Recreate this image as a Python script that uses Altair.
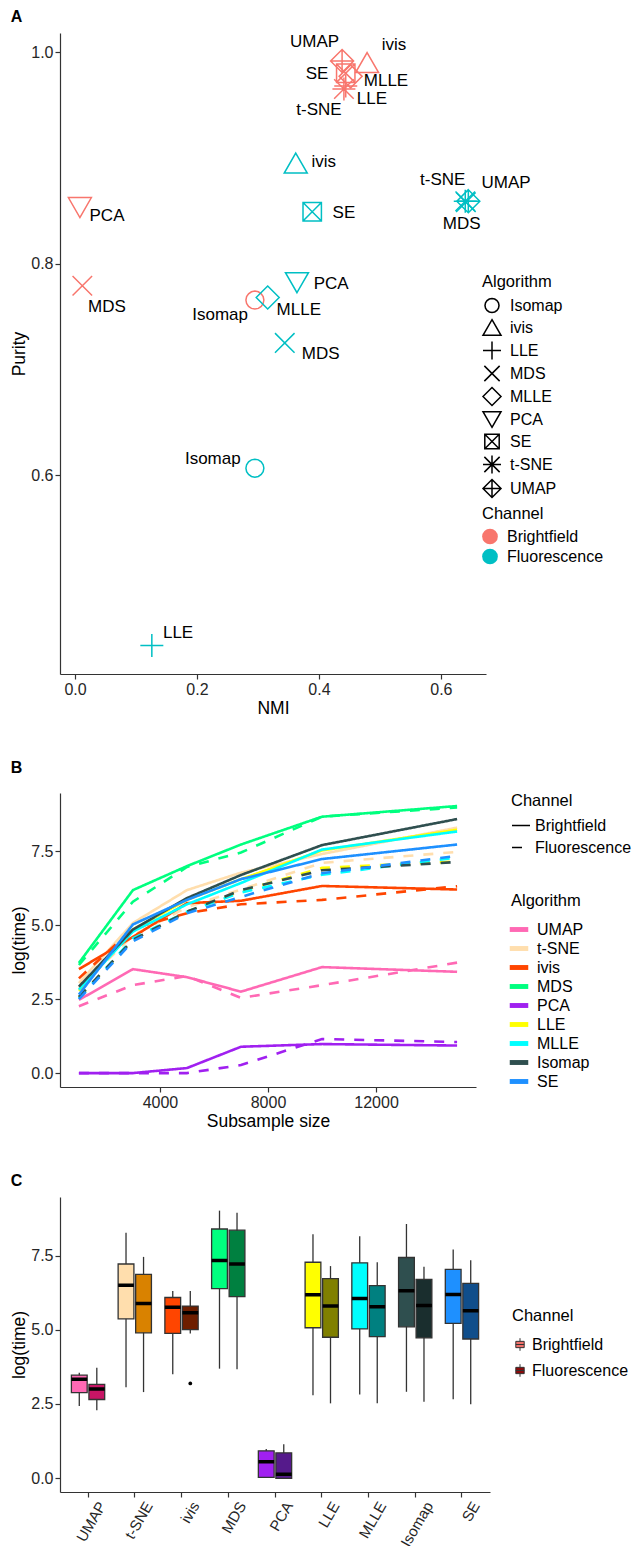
import altair as alt
import pandas as pd

FONT = "Liberation Sans"
BF, FL = "Brightfield", "Fluorescence"

# ---------------- Panel A data ----------------
a_algorithm = ["PCA", "MDS", "Isomap", "UMAP", "ivis", "SE", "MLLE", "LLE", "t-SNE",
               "ivis", "SE", "t-SNE", "UMAP", "MDS", "PCA", "MLLE", "MDS", "Isomap", "LLE"]
a_channel = [BF] * 9 + [FL] * 10
a_nmi = [0.008, 0.012, 0.295, 0.438, 0.479, 0.444, 0.452, 0.444, 0.441,
         0.362, 0.389, 0.640, 0.645, 0.641, 0.364, 0.316, 0.344, 0.295, 0.126]
a_purity = [0.853, 0.779, 0.7655, 0.9915, 0.990, 0.980, 0.977, 0.968, 0.965,
            0.895, 0.849, 0.859, 0.859, 0.858, 0.782, 0.768, 0.725, 0.6066, 0.439]
a_label_nmi = [0.0525, 0.0525, 0.238, 0.393, 0.523, 0.397, 0.510, 0.487, 0.400,
               0.408, 0.441, 0.603, 0.707, 0.634, 0.420, 0.367, 0.403, 0.226, 0.169]
a_label_purity = [0.845, 0.759, 0.751, 1.0095, 1.0066, 0.979, 0.9726, 0.9556, 0.945,
                  0.896, 0.848, 0.879, 0.876, 0.837, 0.781, 0.756, 0.715, 0.615, 0.451]

shape_domain = ["Isomap", "ivis", "LLE", "MDS", "MLLE", "PCA", "SE", "t-SNE", "UMAP"]
shape_paths = [
    "M0.78,0L0.72,0.3L0.55,0.55L0.3,0.72L0,0.78L-0.3,0.72L-0.55,0.55L-0.72,0.3L-0.78,0"
    "L-0.72,-0.3L-0.55,-0.55L-0.3,-0.72L0,-0.78L0.3,-0.72L0.55,-0.55L0.72,-0.3Z",
    "M0,-0.87L1,0.87L-1,0.87Z",
    "M-1,0L1,0M0,-1L0,1",
    "M-0.85,-0.85L0.85,0.85M-0.85,0.85L0.85,-0.85",
    "M0,-1L1,0L0,1L-1,0Z",
    "M0,0.87L1,-0.87L-1,-0.87Z",
    "M-0.8,-0.8L0.8,-0.8L0.8,0.8L-0.8,0.8ZM-0.8,-0.8L0.8,0.8M-0.8,0.8L0.8,-0.8",
    "M-1,0L1,0M0,-1L0,1M-0.85,-0.85L0.85,0.85M-0.85,0.85L0.85,-0.85",
    "M0,-1L1,0L0,1L-1,0ZM-1,0L1,0M0,-1L0,1",
]
channel_colors_a = ["#F8766D", "#00BFC4"]

# ---------------- Panel B data ----------------
b_sizes = [1000, 3000, 5000, 7000, 10000, 15000]
b_order = ["UMAP", "t-SNE", "ivis", "MDS", "PCA", "LLE", "MLLE", "Isomap", "SE"]
b_colors = ["#FF69B4", "#FFDEAD", "#FF4500", "#00FF7F", "#A020F0",
            "#FFFF00", "#00FFFF", "#2F4F4F", "#1E90FF"]
b_umap_bf = [2.47, 3.51, 3.24, 2.75, 3.58, 3.42]
b_umap_fl = [2.26, 2.97, 3.28, 2.54, 2.97, 3.73]
b_tsne_bf = [3.04, 5.07, 6.18, 6.77, 7.40, 8.29]
b_tsne_fl = [2.88, 4.65, 5.60, 6.20, 7.10, 7.47]
b_ivis_bf = [3.51, 4.60, 5.74, 5.82, 6.32, 6.20]
b_ivis_fl = [3.20, 4.88, 5.40, 5.70, 5.85, 6.31]
b_mds_bf = [3.72, 6.18, 6.99, 7.72, 8.66, 9.02]
b_mds_fl = [3.65, 5.79, 6.96, 7.45, 8.66, 8.97]
b_pca_bf = [0.0, 0.0, 0.17, 0.89, 0.98, 0.93]
b_pca_fl = [0.0, 0.0, 0.0, 0.27, 1.15, 1.05]
b_lle_bf = [2.78, 4.85, 5.85, 6.55, 7.52, 8.22]
b_lle_fl = [2.55, 4.50, 5.45, 6.15, 6.93, 7.15]
b_mlle_bf = [2.82, 4.78, 5.70, 6.42, 7.55, 8.16]
b_mlle_fl = [2.52, 4.55, 5.45, 6.10, 6.70, 7.28]
b_isomap_bf = [2.92, 4.85, 5.91, 6.69, 7.70, 8.58]
b_isomap_fl = [2.57, 4.50, 5.45, 6.18, 6.85, 7.13]
b_se_bf = [2.65, 5.02, 5.85, 6.55, 7.23, 7.72]
b_se_fl = [2.50, 4.45, 5.40, 5.95, 6.75, 7.34]

b_series = [
    ("UMAP", BF, b_umap_bf), ("UMAP", FL, b_umap_fl),
    ("t-SNE", BF, b_tsne_bf), ("t-SNE", FL, b_tsne_fl),
    ("ivis", BF, b_ivis_bf), ("ivis", FL, b_ivis_fl),
    ("MDS", BF, b_mds_bf), ("MDS", FL, b_mds_fl),
    ("PCA", BF, b_pca_bf), ("PCA", FL, b_pca_fl),
    ("LLE", BF, b_lle_bf), ("LLE", FL, b_lle_fl),
    ("MLLE", BF, b_mlle_bf), ("MLLE", FL, b_mlle_fl),
    ("Isomap", BF, b_isomap_bf), ("Isomap", FL, b_isomap_fl),
    ("SE", BF, b_se_bf), ("SE", FL, b_se_fl),
]

# ---------------- Panel C data (box statistics) ----------------
c_order = ["UMAP", "t-SNE", "ivis", "MDS", "PCA", "LLE", "MLLE", "Isomap", "SE"]
c_low_bf = [2.43, 3.06, 3.50, 3.69, 0.00, 2.79, 2.82, 2.91, 2.66]
c_q1_bf = [2.88, 5.37, 4.88, 6.39, 0.02, 5.07, 5.03, 5.10, 5.22]
c_med_bf = [3.33, 6.50, 5.76, 7.34, 0.55, 6.18, 6.06, 6.32, 6.19]
c_q3_bf = [3.47, 7.22, 6.09, 8.40, 0.92, 7.28, 7.26, 7.44, 7.04]
c_high_bf = [3.55, 8.27, 6.31, 9.02, 0.98, 8.22, 8.16, 8.57, 7.71]
c_low_fl = [2.29, 2.90, 4.88, 3.67, -0.02, 2.52, 2.52, 2.57, 2.49]
c_q1_fl = [2.65, 4.90, 5.01, 6.12, -0.01, 4.75, 4.77, 4.73, 4.69]
c_med_fl = [3.00, 5.89, 5.58, 7.22, 0.13, 5.80, 5.78, 5.82, 5.64]
c_q3_fl = [3.16, 6.87, 5.80, 8.36, 0.85, 6.73, 6.49, 6.70, 6.57]
c_high_fl = [3.72, 7.46, 6.31, 8.95, 1.14, 7.15, 7.28, 7.13, 7.35]
c_colors_bf = ["#FF69B4", "#FFDEAD", "#FF4500", "#00FF7F", "#A020F0",
               "#FFFF00", "#00FFFF", "#2F4F4F", "#1E90FF"]
c_colors_fl = ["#C71565", "#D98200", "#6E1E00", "#008040", "#551A8B",
               "#808000", "#008080", "#1A2E2E", "#104E8B"]
c_outlier_algorithm = ["ivis"]
c_outlier_channel = [FL]
c_outlier_value = [3.19]
c_legend_colors = ["#F0706A", "#8B0A0A"]

# ---------------- Panel A ----------------
dfA = pd.DataFrame({"Algorithm": a_algorithm, "Channel": a_channel, "NMI": a_nmi,
                    "Purity": a_purity, "LabelNMI": a_label_nmi, "LabelPurity": a_label_purity})
# legend-only rows (no position, so nothing is drawn for them)
dfA_leg = pd.DataFrame({"ChannelKey": [BF, FL], "NMI": [None, None], "Purity": [None, None]})
dfA_shape = pd.DataFrame({"AlgoKey": shape_domain, "NMI": [None] * 9, "Purity": [None] * 9})

xA = alt.X("NMI:Q", title="NMI",
           scale=alt.Scale(domain=[-0.0246, 0.674], nice=False, zero=False),
           axis=alt.Axis(values=[0, 0.2, 0.4, 0.6], format=".1f"))
yA = alt.Y("Purity:Q", title="Purity",
           scale=alt.Scale(domain=[0.412, 1.018], nice=False, zero=False),
           axis=alt.Axis(values=[0.6, 0.8, 1.0], format=".1f"))

# plotted marks (their scales list the same categories in reverse order)
ptsA = alt.Chart(dfA).mark_point(filled=False, size=529, strokeWidth=1.5, opacity=1).encode(
    x=xA, y=yA,
    shape=alt.Shape("Algorithm:N", scale=alt.Scale(domain=shape_domain[::-1], range=shape_paths[::-1]),
                    legend=None),
    stroke=alt.Stroke("Channel:N", scale=alt.Scale(domain=[FL, BF], range=channel_colors_a[::-1]),
                      legend=None),
)
labA = alt.Chart(dfA).mark_text(font=FONT, fontSize=17, color="black").encode(
    x="LabelNMI:Q", y="LabelPurity:Q", text="Algorithm:N")
legS = alt.Chart(dfA_shape).mark_point(filled=False, size=324, strokeWidth=1.5, color="black",
                                       opacity=1).encode(
    x="NMI:Q", y="Purity:Q",
    shape=alt.Shape("AlgoKey:N", scale=alt.Scale(domain=shape_domain, range=shape_paths),
                    legend=alt.Legend(title="Algorithm", orient="none", legendX=422, legendY=241,
                                      symbolSize=324, symbolStrokeColor="black",
                                      symbolStrokeWidth=1.5, symbolFillColor="transparent",
                                      rowPadding=0, titlePadding=5, labelOffset=8)),
)
legA = alt.Chart(dfA_leg).mark_point(filled=True, shape="circle", size=246, opacity=1).encode(
    x="NMI:Q", y="Purity:Q",
    fill=alt.Fill("ChannelKey:N", scale=alt.Scale(domain=[BF, FL], range=channel_colors_a),
                  legend=alt.Legend(title="Channel", orient="none", legendX=422, legendY=473,
                                    symbolType="circle", symbolSize=246, rowPadding=4,
                                    symbolStrokeWidth=0, labelOffset=9)),
)
panelA = alt.layer(ptsA, labA, legS, legA).resolve_scale(shape="independent").properties(
    width=426, height=641,
    title=alt.TitleParams("A", anchor="start", fontSize=16, fontWeight="bold", offset=8))

# ---------------- Panel B ----------------
rows = []
for algo, ch, vals in b_series:
    for s, v in zip(b_sizes, vals):
        rows.append({"Algorithm": algo, "Channel": ch, "Size": s, "LogTime": v})
dfB = pd.DataFrame(rows)

lineB = alt.Chart(dfB).mark_line(strokeWidth=2.6).encode(
    x=alt.X("Size:Q", title="Subsample size",
            scale=alt.Scale(domain=[300, 15700], nice=False, zero=False),
            axis=alt.Axis(values=[4000, 8000, 12000], format="d")),
    y=alt.Y("LogTime:Q", title="log(time)",
            scale=alt.Scale(domain=[-0.47, 9.46], nice=False, zero=False),
            axis=alt.Axis(values=[0, 2.5, 5, 7.5], format=".1f")),
    color=alt.Color("Algorithm:N", scale=alt.Scale(domain=b_order, range=b_colors),
                    legend=alt.Legend(title="Algorithm", orient="none", legendX=451, legendY=100,
                                      symbolType="M-1.6,-0.15L1.6,-0.15L1.6,0.15L-1.6,0.15Z",
                                      symbolStrokeWidth=3.5, symbolSize=88,
                                      rowPadding=3, titlePadding=12, labelOffset=10)),
    strokeDash=alt.StrokeDash("Channel:N", scale=alt.Scale(domain=[BF, FL], range=[[1, 0], [10, 10]]),
                              legend=alt.Legend(title="Channel", orient="none", legendX=451, legendY=0,
                                                symbolType="stroke", symbolStrokeColor="black",
                                                symbolStrokeWidth=1.5, symbolSize=324, rowPadding=4)),
)
panelB = lineB.properties(
    width=416, height=294,
    title=alt.TitleParams("B", anchor="start", fontSize=16, fontWeight="bold", offset=17))

# ---------------- Panel C ----------------
crow = []
for i, a in enumerate(c_order):
    crow.append({"Algorithm": a, "Channel": BF, "Key": a + "|" + BF, "lo": c_low_bf[i],
                 "q1": c_q1_bf[i], "med": c_med_bf[i], "q3": c_q3_bf[i], "hi": c_high_bf[i]})
    crow.append({"Algorithm": a, "Channel": FL, "Key": a + "|" + FL, "lo": c_low_fl[i],
                 "q1": c_q1_fl[i], "med": c_med_fl[i], "q3": c_q3_fl[i], "hi": c_high_fl[i]})
dfC = pd.DataFrame(crow)
key_domain = [a + "|" + BF for a in c_order] + [a + "|" + FL for a in c_order]
key_range = c_colors_bf + c_colors_fl
dfC_out = pd.DataFrame({"Algorithm": c_outlier_algorithm, "Channel": c_outlier_channel,
                        "value": c_outlier_value})
dfC_leg = pd.DataFrame({"Algorithm": ["UMAP", "UMAP"], "ChannelKey": [BF, FL], "value": [None, None]})

xC = alt.X("Algorithm:N", title=None,
           scale=alt.Scale(domain=c_order, paddingInner=0.25, paddingOuter=0.225),
           axis=alt.Axis(labelAngle=300, labelAlign="right", labelBaseline="top",
                         labelPadding=2, labelOffset=8, labelFontSize=15))
xoC = alt.XOffset("Channel:N", scale=alt.Scale(domain=[BF, FL], paddingInner=0.1, paddingOuter=0.05))
yC = alt.Y("lo:Q", title="log(time)",
           scale=alt.Scale(domain=[-0.47, 9.48], nice=False, zero=False),
           axis=alt.Axis(values=[0, 2.5, 5, 7.5], format=".1f"))

whiskC = alt.Chart(dfC).mark_rule(color="#333333", strokeWidth=1.3).encode(
    x=xC, xOffset=xoC, y=yC, y2="hi:Q")
boxC = alt.Chart(dfC).mark_bar(stroke="#333333", strokeWidth=1.3).encode(
    x=xC, xOffset=xoC, y="q1:Q", y2="q3:Q",
    color=alt.Color("Key:N", scale=alt.Scale(domain=key_domain, range=key_range), legend=None))
medC = alt.Chart(dfC).mark_bar(stroke="black", strokeWidth=3.5, fill="black").encode(
    x=xC, xOffset=xoC, y="med:Q", y2="med:Q")
outC = alt.Chart(dfC_out).mark_circle(size=14, color="black", opacity=1).encode(
    x=xC, xOffset=xoC, y="value:Q")
legC = alt.Chart(dfC_leg).mark_point(filled=True, opacity=1,
                                     shape="M-0.6,-0.45L0.6,-0.45L0.6,0.45L-0.6,0.45Z").encode(
    x=xC, y="value:Q",
    fill=alt.Fill("ChannelKey:N", scale=alt.Scale(domain=[BF, FL], range=c_legend_colors),
                  legend=alt.Legend(title="Channel", orient="none", legendX=452, legendY=111,
                                    symbolType="M-0.6,-0.45L0.6,-0.45L0.6,0.45L-0.6,0.45ZM-0.6,0L0.6,0M0,-0.45L0,-0.9M0,0.45L0,0.9",
                                    symbolSize=196, symbolStrokeColor="#333333",
                                    symbolStrokeWidth=1, rowPadding=8, titlePadding=12)),
)
panelC = alt.layer(whiskC, boxC, medC, outC, legC).properties(
    width=430, height=295,
    title=alt.TitleParams("C", anchor="start", fontSize=16, fontWeight="bold", offset=8))

chart = alt.vconcat(panelA, panelB, panelC, spacing=43).resolve_scale(
    x="independent", y="independent", color="independent", fill="independent",
    stroke="independent", shape="independent", strokeDash="independent"
).resolve_legend(
    color="independent", fill="independent", stroke="independent",
    shape="independent", strokeDash="independent"
).properties(
    padding={"left": 10, "top": 8, "right": 0, "bottom": 0}
).configure_view(stroke=None).configure_axis(
    labelFont=FONT, titleFont=FONT, labelFontSize=16, titleFontSize=17.5,
    titleFontWeight="normal", labelColor="#262626", titleColor="black",
    domainColor="#333333", domainWidth=1.2, tickColor="#333333", tickWidth=1.2,
    tickSize=5, grid=False, labelPadding=2, titlePadding=2
).configure_legend(
    titleFont=FONT, labelFont=FONT, titleFontSize=16.5, labelFontSize=16,
    titleFontWeight="normal", titleColor="black", labelColor="black", titlePadding=6
).configure_title(font=FONT, color="black")

chart.save("out.html", embed_options={"renderer": "svg", "actions": False})
